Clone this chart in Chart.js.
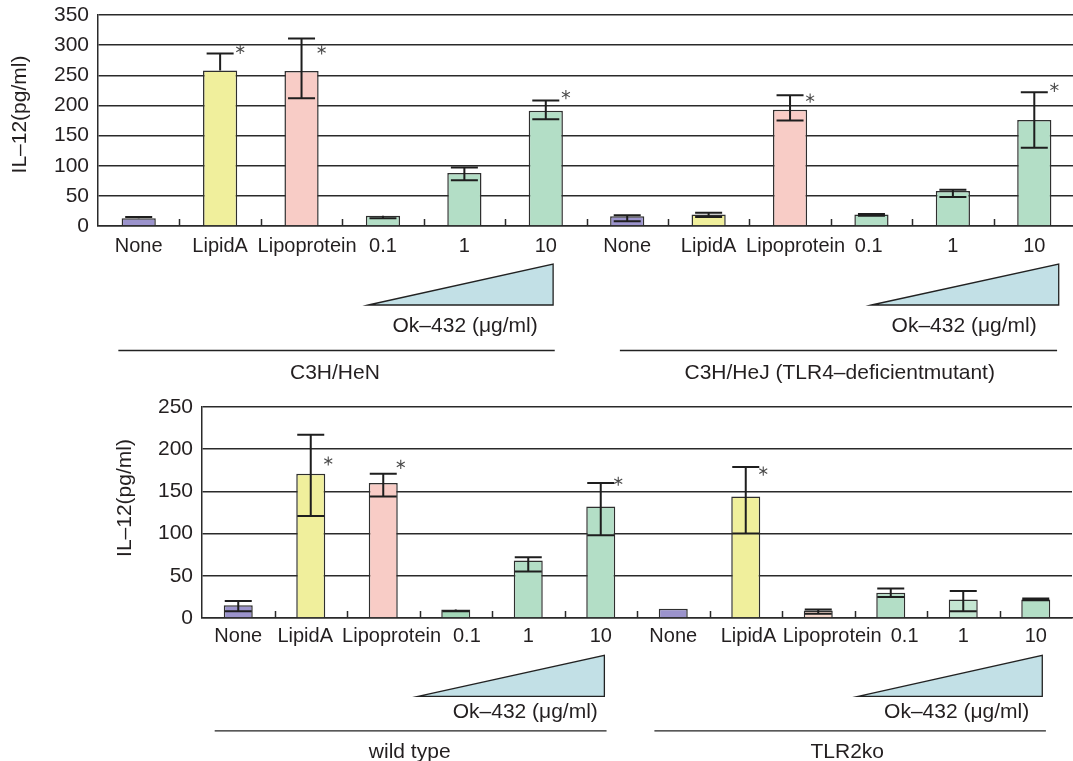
<!DOCTYPE html>
<html><head><meta charset="utf-8">
<script src="https://cdn.jsdelivr.net/npm/chart.js@4.4.1/dist/chart.umd.min.js"></script>
<style>
html,body{margin:0;padding:0;background:#fff;overflow:hidden;width:1073px;height:761px;position:relative;}
.box{position:absolute;left:0;width:1080px;}
#b1{top:0;height:390px;}
#b2{top:390px;height:371px;}
canvas{display:block;}
</style></head><body>
<div class="box" id="b1"><canvas id="c1" width="1080" height="390"></canvas></div>
<div class="box" id="b2"><canvas id="c2" width="1080" height="371"></canvas></div>
<script>
// ---- data ----
const categories = ['None','LipidA','Lipoprotein','0.1','1','10','None','LipidA','Lipoprotein','0.1','1','10'];

// top panel: C3H/HeN (first six) and C3H/HeJ (last six)
const topValues = [13, 258, 257, 17, 88, 191, 16, 19, 193, 19, 58, 176];
const topLow    = [13, 258, 212, 13, 76, 177,  8, 15, 175, 17, 48, 130];
const topHigh   = [15, 286, 311, 17, 97, 208, 18, 22, 217, 20, 60, 222];
const topStars  = [null, 293, 292, null, null, 218, null, null, 212, null, null, 230];
const topTicks  = [0, 50, 100, 150, 200, 250, 300, 350];

// bottom panel: wild type (first six) and TLR2ko (last six)
const botValues = [15, 171, 160, 10, 68, 132, 11, 144,  9, 30, 22, 22];
const botLow    = [ 8, 121, 144,  8, 55,  98, 11, 100,  5, 25,  8, 21];
const botHigh   = [20, 217, 171, 10, 72, 160, 11, 179, 10, 35, 32, 23];
const botStars  = [null, 186, 182, null, null, 162, null, 174, null, null, null, null];
const botTicks  = [0, 50, 100, 150, 200, 250];

const topGroups = ['C3H/HeN', 'C3H/HeJ (TLR4–deficientmutant)'];
const botGroups = ['wild type', 'TLR2ko'];
const doseLabel = 'Ok–432 (μg/ml)';
const yTitle = 'IL–12(pg/ml)';

// ---- styles ----
const PURPLE = '#9b93cc', YELLOW = '#f0ef9c', PINK = '#f8ccc6', GREEN = '#b3dec6';
const topColors = [PURPLE, YELLOW, PINK, GREEN, GREEN, GREEN, PURPLE, YELLOW, PINK, GREEN, GREEN, GREEN];
const botColors = [PURPLE, YELLOW, PINK, '#a3d7b8', GREEN, GREEN, PURPLE, YELLOW, '#f7d9cd', GREEN, '#c4e6d2', GREEN];
const FONT = '"Liberation Sans", Arial, sans-serif';
const INK = '#231f20';
const LINE = '#2a2a2a';
// crowded neighbouring labels are nudged apart with spacing (>0 leading, <0 trailing); visible text unchanged
const topNudge = [0, 0, 2, 0, 0, 0, 0, 0, 2, -1, 0, 0];
const botNudge = [0, -2, 3, 4, 0, 0, 0, 1, 5, 5, 0, 0];

const panels = [
  { canvas: 'c1', values: topValues, low: topLow, high: topHigh, stars: topStars, ticks: topTicks, colors: topColors,
    nudge: topNudge, groups: topGroups, yMax: 350, yWidth: 98, padTop: 15, padRight: 5, padBottom: 134, xHeight: 30,
    xPad: 0, titleX: 20, titleDy: -6, barPct: 0.42,
    ann: { triTop: 38, triBot: 79, textY: 100, lineY: 124, labelY: 147,
      g: [ { tri: [3.32, 5.59], textR: 5.40, line: [0.25, 5.61], labelAt: 2.91 },
           { tri: [9.50, 11.80], textR: 11.53, line: [6.41, 11.78], labelAt: 9.11 } ] } },
  { canvas: 'c2', values: botValues, low: botLow, high: botHigh, stars: botStars, ticks: botTicks, colors: botColors,
    nudge: botNudge, groups: botGroups, yMax: 250, yWidth: 202, padTop: 17, padRight: 8, padBottom: 113, xHeight: 30,
    xPad: -2, titleX: 125.7, titleDy: -14.5, barPct: 0.40,
    ann: { triTop: 37.4, triBot: 78.4, textY: 94.4, lineY: 112.4, labelY: 134.4,
      g: [ { tri: [2.98, 5.55], textR: 5.46, line: [0.175, 5.58], labelAt: 2.865 },
           { tri: [9.05, 11.59], textR: 11.41, line: [6.24, 11.64], labelAt: 8.9 } ] } }
];

function drawStar(ctx, x, y, r) {
  ctx.save();
  ctx.strokeStyle = '#4a4a4a';
  ctx.lineWidth = 1.1;
  ctx.beginPath();
  for (let k = 0; k < 3; k++) {
    const a = Math.PI / 2 + k * Math.PI / 3;
    ctx.moveTo(x - r * Math.cos(a), y - r * Math.sin(a));
    ctx.lineTo(x + r * Math.cos(a), y + r * Math.sin(a));
  }
  ctx.stroke();
  ctx.restore();
}

panels.forEach(p => {
  const extras = {
    id: 'extras',
    afterDatasetsDraw(chart) {
      const ctx = chart.ctx, ys = chart.scales.y, area = chart.chartArea;
      const meta = chart.getDatasetMeta(0);
      const n = categories.length;
      const w = (area.right - area.left) / n;
      ctx.save();
      // inner tick marks at category boundaries
      ctx.strokeStyle = LINE; ctx.lineWidth = 1.5;
      ctx.beginPath();
      for (let i = 1; i < n; i++) {
        const x = Math.round(area.left + i * w) + 0.5;
        ctx.moveTo(x, area.bottom); ctx.lineTo(x, area.bottom - 7);
      }
      ctx.stroke();
      // error bars
      const cap = 13.5;
      ctx.strokeStyle = '#1e1e1e'; ctx.lineWidth = 2;
      meta.data.forEach((bar, i) => {
        const x = bar.x;
        const yv = ys.getPixelForValue(p.values[i]);
        ctx.beginPath();
        if (p.high[i] > p.values[i]) {
          const yh = ys.getPixelForValue(p.high[i]);
          ctx.moveTo(x, yv); ctx.lineTo(x, yh);
          ctx.moveTo(x - cap, yh); ctx.lineTo(x + cap, yh);
        }
        if (p.low[i] < p.values[i]) {
          const yl = ys.getPixelForValue(p.low[i]);
          ctx.moveTo(x, yv); ctx.lineTo(x, yl);
          ctx.moveTo(x - cap, yl); ctx.lineTo(x + cap, yl);
        }
        ctx.stroke();
        if (p.stars[i] != null) {
          drawStar(ctx, x + bar.width / 2 + 3, ys.getPixelForValue(p.stars[i]), 4.6);
        }
      });
      ctx.restore();
    },
    afterDraw(chart) {
      const ctx = chart.ctx, area = chart.chartArea;
      const n = categories.length;
      const w = (area.right - area.left) / n;
      const cx = f => area.left + f * w;
      const b = area.bottom;
      const a = p.ann;
      ctx.save();
      // y axis title
      ctx.save();
      ctx.translate(p.titleX, (area.top + area.bottom) / 2 + p.titleDy);
      ctx.rotate(-Math.PI / 2);
      ctx.fillStyle = INK; ctx.font = '21px ' + FONT;
      ctx.textAlign = 'center'; ctx.textBaseline = 'middle';
      ctx.fillText(yTitle, 0, 0);
      ctx.restore();
      a.g.forEach((g, gi) => {
        // dose triangle
        ctx.beginPath();
        ctx.moveTo(cx(g.tri[0]), b + a.triBot);
        ctx.lineTo(cx(g.tri[1]), b + a.triTop);
        ctx.lineTo(cx(g.tri[1]), b + a.triBot);
        ctx.closePath();
        ctx.fillStyle = '#c2e0e6'; ctx.fill();
        ctx.strokeStyle = '#222'; ctx.lineWidth = 1.3; ctx.stroke();
        // dose label
        ctx.fillStyle = INK; ctx.font = '21px ' + FONT;
        ctx.textAlign = 'right'; ctx.textBaseline = 'middle';
        ctx.fillText(doseLabel, cx(g.textR), b + a.textY);
        // group line
        ctx.beginPath();
        ctx.moveTo(cx(g.line[0]), b + a.lineY + 0.5);
        ctx.lineTo(cx(g.line[1]), b + a.lineY + 0.5);
        ctx.strokeStyle = '#222'; ctx.lineWidth = 1.4; ctx.stroke();
        // group label
        ctx.textAlign = 'center';
        ctx.fillText(p.groups[gi], cx(g.labelAt), b + a.labelY);
      });
      ctx.restore();
    }
  };

  new Chart(document.getElementById(p.canvas), {
    type: 'bar',
    data: {
      labels: categories,
      datasets: [{
        data: p.values,
        backgroundColor: p.colors,
        borderColor: '#2f2f2f',
        borderWidth: 1.5,
        barPercentage: p.barPct,
        categoryPercentage: 1
      }]
    },
    options: {
      responsive: false,
      animation: false,
      devicePixelRatio: 1,
      layout: { autoPadding: false, padding: { left: 0, top: p.padTop, right: p.padRight, bottom: p.padBottom } },
      plugins: { legend: { display: false }, tooltip: { enabled: false }, title: { display: false } },
      scales: {
        x: {
          grid: { display: false },
          border: { display: true, color: LINE, width: 1.5 },
          ticks: {
            color: INK, font: { family: FONT, size: 20 }, padding: p.xPad, maxRotation: 0, minRotation: 0, autoSkip: false,
            callback: function (v, i) {
              const k = p.nudge[i], s = categories[i];
              return k > 0 ? ' '.repeat(k) + s : (k < 0 ? s + ' '.repeat(-k) : s);
            }
          },
          afterFit: s => { s.height = p.xHeight; s.paddingLeft = 0; s.paddingRight = 0; }
        },
        y: {
          min: 0, max: p.yMax,
          afterBuildTicks: s => { s.ticks = p.ticks.map(v => ({ value: v })); },
          grid: { color: LINE, lineWidth: 1.4, drawTicks: false },
          border: { display: true, color: LINE, width: 1.5 },
          ticks: { color: INK, font: { family: FONT, size: 21 }, padding: 9 },
          afterFit: s => { s.width = p.yWidth; s.paddingTop = 0; s.paddingBottom = 0; }
        }
      }
    },
    plugins: [extras]
  });
});
</script>
</body></html>
